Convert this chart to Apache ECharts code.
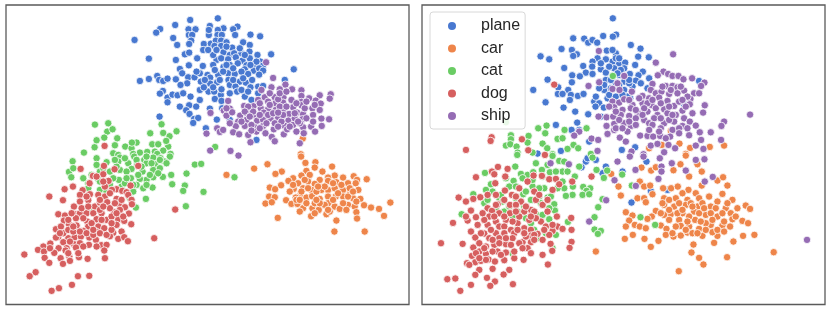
<!DOCTYPE html>
<html>
<head>
<meta charset="utf-8">
<style>html,body{margin:0;padding:0;background:#fff}#c{width:830px;height:310px}</style>
<script src="https://cdn.jsdelivr.net/npm/echarts@6/dist/echarts.min.js"></script>
</head>
<body>
<div id="c"></div>
<script>
const categories = ['plane','car','cat','dog','ship'];
const colors = ['#4878d0','#ee854a','#6acc64','#d65f5f','#956cb4'];

const leftPlane = [[404,120],[481,87],[469,98],[526,75],[571,60],[654,55],[566,88],[587,88],[630,78],[671,85],[654,90],[713,80],[700,88],[520,114],[532,135],[567,105],[577,105],[574,122],[568,132],[627,105],[627,90],[653,105],[666,105],[706,105],[752,104],[781,109],[612,132],[633,131],[648,122],[664,122],[680,127],[730,127],[750,135],[610,150],[644,138],[664,138],[697,143],[555,163],[568,158],[447,176],[528,180],[592,175],[567,196],[609,198],[671,157],[690,165],[703,160],[725,160],[749,155],[773,165],[814,163],[650,180],[664,175],[685,178],[708,172],[750,175],[728,182],[782,185],[640,195],[671,201],[714,190],[740,196],[761,194],[790,197],[655,225],[685,220],[705,222],[735,208],[762,212],[778,205],[790,212],[745,222],[778,224],[882,208],[540,207],[547,220],[623,225],[631,233],[472,228],[478,240],[490,243],[503,236],[447,237],[420,243],[528,238],[565,232],[584,232],[562,250],[542,255],[603,245],[631,251],[652,247],[686,240],[720,245],[690,255],[738,248],[757,240],[707,260],[752,262],[775,260],[790,258],[855,240],[600,270],[626,275],[643,275],[663,285],[489,273],[480,281],[503,293],[518,284],[533,286],[503,307],[540,320],[568,316],[589,320],[600,300],[645,297],[665,303],[712,275],[735,290],[630,326],[559,331],[569,342],[583,357],[595,354],[580,369],[479,350],[651,359],[618,385],[690,360],[770,420],[667,325],[775,280],[755,300],[690,195],[700,205],[725,215],[670,215],[645,210],[660,240],[700,240],[730,235],[615,240],[640,262],[665,268],[690,280],[725,270],[745,275],[600,220],[590,215],[680,140],[720,145],[735,165],[770,185],[752,195],[640,165],[625,150],[650,150],[680,195],[612,262],[572,290],[550,280]];

const leftCar = [[909,416],[903,463],[904,470],[947,487],[917,489],[945,503],[997,500],[763,506],[803,493],[846,515],[827,522],[680,525],[920,513],[968,515],[930,525],[905,527],[880,535],[866,543],[1005,527],[1030,533],[1062,529],[1101,538],[1072,540],[985,533],[960,540],[1045,550],[1068,550],[895,550],[925,545],[945,552],[985,543],[1010,547],[844,556],[810,563],[826,568],[882,567],[910,565],[935,570],[965,570],[985,570],[1005,565],[1030,570],[1052,578],[1076,570],[808,590],[825,592],[903,582],[888,593],[920,593],[937,589],[960,597],[985,590],[1008,590],[1030,590],[1060,595],[1082,597],[859,601],[797,611],[816,607],[875,612],[893,612],[910,625],[938,625],[957,630],[985,610],[1005,620],[1020,627],[1045,615],[1065,620],[1093,616],[1114,623],[1138,627],[1172,608],[1070,637],[1153,648],[980,643],[934,649],[834,654],[990,635],[1010,662],[1072,656],[1004,695],[1095,695],[890,600],[945,610],[975,615],[1030,610],[880,555],[905,575],[925,565],[950,575],[975,560],[1000,550],[1025,555],[1050,565],[900,600],[920,610],[960,610],[1000,600],[1045,590],[1070,605],[1040,630],[985,630],[950,600],[870,575],[945,640],[1015,580],[1060,575],[915,540],[955,560],[900,635]];

const leftCat = [[285,374],[325,370],[322,395],[338,388],[313,413],[290,421],[352,415],[284,442],[345,436],[376,440],[395,445],[410,428],[396,428],[252,458],[340,460],[485,373],[451,400],[490,399],[509,409],[530,394],[457,433],[475,433],[505,440],[499,423],[646,441],[420,458],[442,456],[465,455],[490,452],[512,462],[355,465],[400,462],[472,462],[218,484],[290,475],[207,516],[214,532],[220,505],[320,487],[290,495],[360,473],[403,470],[433,480],[460,473],[482,475],[510,470],[355,485],[385,490],[412,495],[440,490],[465,493],[495,485],[300,515],[330,515],[360,510],[395,507],[428,515],[460,510],[480,505],[585,494],[604,492],[560,521],[514,525],[489,531],[460,532],[440,540],[420,537],[393,535],[357,540],[295,538],[265,550],[517,553],[555,557],[550,573],[611,576],[704,532],[558,619],[458,563],[430,565],[410,555],[365,560],[330,555],[300,570],[265,565],[400,575],[438,597],[408,623],[390,595],[270,630],[410,480],[440,470],[455,490],[425,500],[380,515],[350,500],[310,505],[340,535],[375,550],[415,525],[450,525],[475,520],[275,525],[300,545],[320,575],[380,535],[400,555],[440,555],[250,535],[480,480],[500,490],[345,480],[375,475]];

const leftDog = [[314,438],[242,507],[312,498],[344,508],[415,498],[279,528],[310,523],[326,543],[269,550],[219,560],[194,568],[189,601],[148,590],[248,571],[392,557],[350,568],[336,570],[367,573],[380,577],[315,560],[526,629],[463,715],[240,585],[270,583],[295,585],[315,590],[350,597],[385,585],[395,600],[396,613],[222,620],[240,605],[265,601],[285,620],[300,608],[322,607],[358,613],[375,622],[175,643],[195,647],[225,643],[240,640],[260,640],[280,640],[305,640],[343,637],[360,630],[387,641],[192,662],[228,655],[262,665],[290,658],[320,660],[355,658],[373,663],[394,673],[168,688],[183,680],[207,673],[230,677],[265,680],[295,680],[313,685],[350,675],[175,711],[205,715],[224,712],[250,693],[288,695],[340,699],[365,695],[330,709],[355,717],[373,712],[384,724],[168,713],[190,700],[243,710],[268,713],[288,720],[190,727],[222,733],[240,730],[267,735],[304,736],[320,735],[151,731],[130,740],[176,745],[200,745],[228,743],[114,750],[132,755],[163,759],[197,752],[313,752],[73,764],[134,774],[182,775],[208,770],[237,772],[263,777],[315,775],[148,789],[189,792],[210,783],[107,817],[89,829],[234,829],[268,828],[216,855],[177,865],[155,873],[215,640],[205,690],[220,695],[240,695],[260,700],[280,705],[300,700],[320,705],[335,690],[205,660],[220,680],[250,655],[275,670],[305,660],[335,650],[350,640],[245,625],[265,620],[300,630],[330,625],[345,610],[260,590],[330,580],[300,600],[365,600],[210,725],[250,740],[180,700],[150,745],[205,760],[290,740],[235,760],[280,690],[310,620],[370,650],[335,670],[310,545],[290,530]];

const leftShip = [[799,187],[820,234],[857,254],[877,268],[905,271],[840,268],[815,262],[785,270],[960,286],[993,283],[990,296],[928,295],[905,288],[948,302],[963,311],[905,306],[905,316],[938,325],[795,292],[825,292],[851,292],[875,300],[685,303],[733,318],[761,319],[783,325],[805,328],[827,310],[850,308],[880,322],[690,326],[672,332],[632,339],[680,347],[697,337],[721,347],[741,340],[762,345],[792,338],[828,330],[849,332],[868,342],[892,338],[910,343],[965,356],[988,358],[940,345],[715,365],[740,360],[772,362],[790,360],[812,355],[835,352],[866,362],[908,358],[708,379],[735,378],[765,382],[790,378],[822,388],[855,378],[880,375],[910,382],[934,380],[966,378],[946,395],[620,401],[652,385],[660,396],[670,390],[700,397],[718,403],[745,405],[770,395],[797,400],[816,411],[825,424],[852,403],[862,388],[890,395],[912,400],[900,430],[752,427],[631,452],[692,453],[716,467],[760,335],[745,320],[825,370],[845,365],[885,355],[915,325],[960,330],[775,300],[755,375],[835,298],[805,305],[780,345],[805,345],[820,340],[840,320],[860,320],[885,340],[900,370],[920,355],[735,335],[750,350],[725,365],[755,392],[780,385],[800,370],[835,380],[850,345],[870,380],[890,310],[920,305],[945,315],[810,280],[840,280],[860,275],[780,310],[810,315],[835,338],[690,370],[680,325],[940,365],[895,365]];

const rightPlane = [[591,55],[601,104],[591,110],[562,108],[505,116],[517,128],[530,120],[544,128],[472,115],[645,135],[674,146],[437,147],[468,150],[483,163],[472,168],[374,169],[400,178],[573,152],[600,160],[545,175],[530,185],[590,185],[610,190],[628,188],[667,170],[658,195],[699,172],[445,204],[502,198],[529,200],[570,178],[555,208],[595,205],[625,205],[510,218],[469,226],[492,229],[530,222],[570,218],[610,225],[642,222],[681,215],[668,226],[395,239],[468,247],[552,247],[570,240],[590,228],[660,242],[700,235],[850,243],[352,270],[427,262],[457,270],[426,282],[440,282],[465,285],[486,288],[503,282],[389,307],[462,300],[443,323],[478,335],[535,305],[550,310],[539,320],[564,323],[575,295],[590,310],[517,343],[565,270],[585,265],[625,270],[650,260],[600,250],[420,375],[484,368],[467,390],[643,295],[805,313],[490,390],[635,290],[695,265],[365,461],[435,453],[618,450],[658,442],[520,425],[555,350],[510,485],[515,475],[540,480],[497,502],[570,500],[620,515],[560,520],[692,485],[647,608],[705,573],[755,570],[600,175],[580,200],[615,210],[590,150],[610,175],[555,190],[585,240],[625,245],[640,250],[565,255],[610,255],[675,250],[540,290],[580,285],[600,290],[620,285],[640,240],[550,265],[605,220]];

const rightCar = [[925,437],[882,441],[823,444],[791,431],[765,393],[700,445],[738,435],[810,462],[810,467],[794,493],[858,515],[845,493],[677,503],[706,512],[720,502],[773,511],[820,530],[586,522],[608,560],[672,545],[685,560],[703,557],[742,565],[766,565],[786,560],[818,570],[858,557],[905,542],[922,532],[935,557],[800,580],[840,580],[880,590],[920,582],[615,587],[665,595],[685,595],[630,637],[650,647],[710,583],[745,595],[780,595],[815,600],[850,595],[905,605],[950,600],[990,617],[1003,627],[965,625],[690,607],[745,615],[775,620],[810,615],[845,620],[885,620],[930,625],[720,633],[765,643],[800,640],[835,635],[870,645],[905,650],[945,640],[708,650],[695,657],[745,645],[790,660],[838,660],[950,658],[980,663],[997,670],[640,662],[630,680],[657,675],[672,680],[690,685],[735,677],[752,687],[795,678],[820,680],[850,687],[885,675],[920,677],[943,680],[627,717],[651,705],[686,717],[728,723],[750,705],[773,710],[795,707],[815,698],[860,708],[905,708],[895,729],[953,725],[982,708],[1016,705],[540,755],[705,741],[833,734],[827,758],[850,774],[863,794],[934,772],[1074,757],[789,814],[890,697],[830,700],[870,670],[740,610],[760,600],[790,610],[825,610],[860,610],[900,625],[935,610],[760,630],[785,640],[820,650],[850,640],[885,640],[920,640],[815,665],[780,680],[855,665],[890,660],[925,665],[810,690],[845,700],[870,690],[905,690],[925,695],[760,660],[735,640],[770,700],[800,630],[865,625],[830,620],[960,650]];

const rightCat = [[270,367],[367,385],[392,377],[388,400],[446,390],[512,385],[285,406],[285,418],[338,408],[335,428],[425,417],[440,415],[380,431],[394,445],[270,437],[283,433],[302,440],[305,458],[455,447],[473,435],[487,445],[410,463],[350,458],[591,228],[525,462],[304,465],[360,490],[410,468],[430,483],[445,485],[530,473],[207,519],[298,500],[395,495],[402,517],[440,515],[315,522],[335,525],[352,517],[378,510],[542,510],[574,512],[564,534],[619,524],[477,530],[270,535],[293,543],[445,565],[471,560],[470,585],[450,588],[502,561],[523,565],[512,573],[500,585],[520,583],[648,557],[560,598],[547,622],[536,652],[456,666],[536,689],[555,693],[546,702],[674,652],[718,675],[137,643],[172,583],[210,570],[225,553],[280,560],[322,583],[350,560],[385,565],[395,593],[205,610],[240,630],[265,635],[305,635],[345,600],[415,613],[417,632],[400,658],[345,670],[360,643],[420,705],[365,715],[290,761],[410,745],[250,595],[300,595],[370,590],[320,535],[350,540],[380,530],[420,515],[455,515],[300,560],[330,575],[370,565],[405,590],[425,565],[255,585],[280,620],[325,620],[375,610],[400,625],[380,645],[330,655],[290,650],[260,605],[230,575],[215,600],[355,690],[300,690],[390,700],[440,545],[490,500]];

const rightDog = [[415,254],[227,412],[224,423],[318,418],[150,450],[337,451],[387,465],[246,501],[275,507],[228,515],[235,523],[180,532],[238,550],[268,530],[353,527],[378,528],[335,545],[400,538],[420,537],[527,530],[469,545],[430,553],[410,570],[267,572],[310,565],[355,575],[240,585],[215,585],[193,592],[172,597],[128,593],[150,605],[245,613],[288,585],[360,600],[315,605],[215,625],[165,632],[228,633],[282,615],[300,615],[345,630],[380,615],[355,635],[250,640],[282,640],[325,635],[395,635],[423,650],[466,654],[180,652],[155,662],[111,669],[220,650],[240,665],[270,660],[305,670],[340,660],[375,665],[185,675],[215,675],[250,680],[285,690],[325,685],[390,680],[425,680],[440,687],[467,690],[165,695],[205,701],[240,700],[265,680],[295,700],[345,690],[365,702],[410,693],[178,713],[220,715],[250,715],[290,715],[345,707],[400,705],[75,730],[140,732],[172,743],[190,730],[210,740],[235,735],[270,733],[320,727],[345,727],[404,732],[467,726],[461,744],[409,753],[168,768],[190,755],[210,762],[245,755],[270,758],[335,745],[345,760],[380,765],[295,775],[323,780],[153,790],[178,787],[195,783],[218,779],[237,785],[265,781],[396,794],[160,795],[230,807],[190,810],[178,825],[280,810],[263,824],[213,834],[94,838],[118,836],[165,855],[237,845],[223,858],[291,853],[133,873],[195,700],[225,690],[265,700],[285,735],[310,730],[330,710],[205,745],[230,755],[255,765],[295,755],[320,745],[180,760],[210,780],[190,775],[250,730],[230,720],[270,715],[305,690],[325,700],[355,705],[380,720],[385,690],[410,675],[360,655],[310,650],[290,665],[265,650],[235,650],[205,660],[240,615],[265,600],[300,590],[330,620],[370,585],[395,600],[150,650],[200,640],[300,635],[345,650],[355,720]];

const rightShip = [[549,153],[772,163],[720,188],[743,215],[726,226],[757,222],[770,228],[788,228],[803,238],[829,235],[866,248],[856,258],[710,252],[550,247],[518,258],[625,228],[605,250],[590,267],[611,270],[648,275],[680,288],[705,270],[720,280],[750,258],[770,258],[785,262],[805,272],[835,280],[850,280],[824,297],[737,275],[760,282],[785,280],[700,295],[730,293],[755,303],[590,305],[610,308],[625,298],[650,315],[680,310],[707,315],[720,325],[745,328],[775,318],[800,332],[822,313],[867,316],[862,338],[1003,344],[595,322],[620,330],[645,325],[668,340],[695,335],[725,345],[755,340],[780,345],[548,350],[572,352],[592,350],[615,345],[640,348],[660,355],[685,360],[715,355],[745,370],[775,365],[805,355],[822,365],[925,365],[917,378],[572,378],[595,372],[625,370],[645,378],[660,375],[700,370],[735,385],[770,390],[800,378],[815,385],[840,377],[885,397],[852,397],[490,395],[475,407],[575,402],[595,390],[612,413],[630,425],[673,407],[695,408],[712,410],[733,408],[763,410],[820,406],[527,416],[547,420],[856,420],[916,420],[840,437],[863,447],[705,437],[725,432],[758,435],[778,445],[545,453],[647,455],[745,457],[683,463],[404,490],[459,493],[605,485],[642,470],[683,470],[732,475],[768,490],[840,480],[866,478],[737,500],[659,510],[737,515],[810,512],[728,537],[596,541],[867,545],[891,531],[660,558],[571,601],[520,665],[1174,720],[640,300],[670,295],[695,310],[660,330],[685,325],[710,300],[735,310],[760,320],[790,305],[740,260],[765,270],[815,290],[800,300],[600,335],[640,365],[680,345],[710,375],[735,355],[760,360],[790,385],[730,395],[700,390],[750,415],[790,400],[580,320],[610,360],[600,385],[635,395],[620,385],[795,260],[770,345],[830,340],[810,320]];

const leftData = [leftPlane, leftCar, leftCat, leftDog, leftShip];
const rightData = [rightPlane, rightCar, rightCat, rightDog, rightShip];

const chart = echarts.init(document.getElementById('c'), null, {renderer:'canvas'});
const frame = {show:true, top:5, width:403, height:299.5, borderColor:'#5a5a5a', borderWidth:1.3, backgroundColor:'#fff', containLabel:false};
function hiddenX(i){return {gridIndex:i,type:'value',show:false,min:18,max:1228,splitLine:{show:false}};}
function hiddenY(i){return {gridIndex:i,type:'value',show:false,min:15,max:914,inverse:true,splitLine:{show:false}};}
function makeSeries(data, idx){
  return data.map((d,i)=>({
    name:categories[i], type:'scatter', xAxisIndex:idx, yAxisIndex:idx, data:d,
    symbol:'circle', symbolSize:7.4,
    itemStyle:{color:colors[i],borderColor:'#fff',borderWidth:0.8,opacity:1},
    emphasis:{disabled:true}, silent:true
  }));
}
chart.setOption({
  animation:false,
  backgroundColor:'#fff',
  grid:[Object.assign({left:6},frame),Object.assign({left:422},frame)],
  xAxis:[hiddenX(0),hiddenX(1)],
  yAxis:[hiddenY(0),hiddenY(1)],
  legend:{
    show:true, left:430, top:12, orient:'vertical', align:'left',
    data:categories.map(name=>({name,icon:'circle'})),
    itemWidth:8, itemHeight:8, itemGap:6.5, padding:[6,5,5,18],
    backgroundColor:'rgba(255,255,255,0.85)', borderColor:'#d8d8d8', borderWidth:1, borderRadius:3,
    selectedMode:false,
    itemStyle:{borderWidth:0},
    textStyle:{fontFamily:'"Liberation Sans",Arial,sans-serif',fontSize:16,color:'#262626',padding:[0,0,0,20],lineHeight:16,height:16}
  },
  series:[...makeSeries(leftData,0),...makeSeries(rightData,1)]
});
</script>
</body>
</html>
